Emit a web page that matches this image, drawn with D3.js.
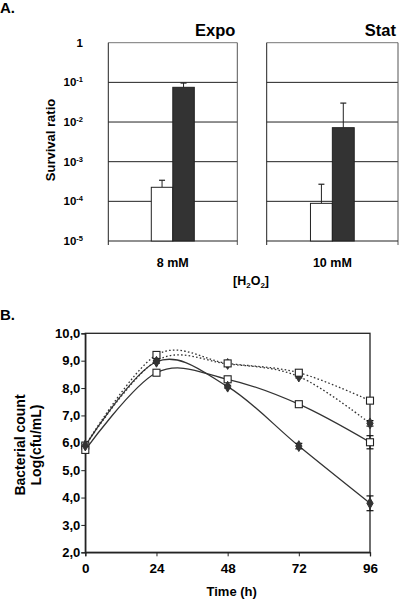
<!DOCTYPE html>
<html><head><meta charset="utf-8">
<script src="https://cdn.jsdelivr.net/npm/d3@7/dist/d3.min.js"></script>
<style>
html,body{margin:0;padding:0;background:#fff;}
svg{display:block;font-family:"Liberation Sans",Arial,sans-serif;font-weight:bold;}
</style></head>
<body>
<svg id="c" width="400" height="599"></svg>
<script>
// ---------- Panel A data ----------
const panelNames = ["Expo", "Stat"];
const concLabels = ["8 mM", "10 mM"];
const barKeys = ["white", "dark"];
const whiteVals = [2.26e-4, 8.9e-5];
const whiteTop = [3.4e-4, 2.7e-4];
const darkVals = [7.5e-2, 7.2e-3];
const darkTop = [9.6e-2, 3.0e-2];
const yExps = [0, -1, -2, -3, -4, -5];

// ---------- Panel B data ----------
const hours = [0, 24, 48, 72, 96];
const xTicksB = [0, 24, 48, 72, 96];
const yTicksB = [2, 3, 4, 5, 6, 7, 8, 9, 10];
const solidDiamond = [5.9, 8.96, 8.05, 5.88, 3.79];
const solidDiamondErr = [0, 0.05, 0.05, 0.1, 0.27];
const solidSquare = [5.74, 8.56, 8.32, 7.41, 6.02];
const solidSquareErr = [0, 0, 0, 0.05, 0.24];
const dottedSquare = [5.9, 9.21, 8.9, 8.56, 7.54];
const dottedSquareErr = [0, 0, 0, 0, 0];
const dottedDiamond = [5.9, 9.0, 8.88, 8.42, 6.71];
const dottedDiamondErr = [0, 0, 0, 0.05, 0.1];

const svg = d3.select("#c");
const ink = "#222";

// ================= PANEL A =================
svg.append("text").attr("x", 0).attr("y", 13).attr("font-size", 15).text("A.");

const yA = d3.scaleLog().domain([1e-5, 1]).range([241, 42.7]);
const boxes = [[108.3, 237.3], [266.7, 398]];

boxes.forEach((bx, i) => {
  const g = svg.append("g");
  const [x0, x1] = bx;
  // gridlines
  yExps.forEach(e => {
    if (e === -5) return;
    g.append("line").attr("x1", x0).attr("x2", x1)
      .attr("y1", yA(Math.pow(10, e))).attr("y2", yA(Math.pow(10, e)))
      .attr("stroke", e === 0 ? "#777" : ink).attr("stroke-width", 1);
  });
  // left & right borders
  g.append("line").attr("x1", x0).attr("x2", x0).attr("y1", yA(1)).attr("y2", yA(1e-5) + 4)
    .attr("stroke", ink);
  g.append("line").attr("x1", x1).attr("x2", x1).attr("y1", yA(1)).attr("y2", yA(1e-5) + 4)
    .attr("stroke", "#555");
  // bottom axis
  g.append("line").attr("x1", x0).attr("x2", x1).attr("y1", yA(1e-5)).attr("y2", yA(1e-5))
    .attr("stroke", ink).attr("stroke-width", 1.2);

  const w = x1 - x0;
  const xb = d3.scaleBand().domain(barKeys).range([x0 + w / 3, x0 + 2 * w / 3]).padding(0);
  const vals = { white: whiteVals[i], dark: darkVals[i] };
  const tops = { white: whiteTop[i], dark: darkTop[i] };
  barKeys.forEach(k => {
    const cx = xb(k) + xb.bandwidth() / 2;
    // error bar
    g.append("line").attr("x1", cx).attr("x2", cx).attr("y1", yA(vals[k])).attr("y2", yA(tops[k]))
      .attr("stroke", ink).attr("stroke-width", 1);
    g.append("line").attr("x1", cx - 3).attr("x2", cx + 3).attr("y1", yA(tops[k])).attr("y2", yA(tops[k]))
      .attr("stroke", ink).attr("stroke-width", 1.2);
    g.append("rect").attr("x", xb(k)).attr("width", xb.bandwidth())
      .attr("y", yA(vals[k])).attr("height", yA(1e-5) - yA(vals[k]))
      .attr("fill", k === "white" ? "#fff" : "#333").attr("stroke", ink).attr("stroke-width", 1);
  });

  svg.append("text").attr("x", x1 - 2).attr("y", 36).attr("text-anchor", "end")
    .attr("font-size", 16.5).text(panelNames[i]);
  svg.append("text").attr("x", (x0 + x1) / 2).attr("y", 267).attr("text-anchor", "middle")
    .attr("font-size", 12.5).text(concLabels[i]);
});

// y tick labels panel A
yExps.forEach(e => {
  const t = svg.append("text").attr("x", 83).attr("y", yA(Math.pow(10, e)) + 4)
    .attr("text-anchor", "end").attr("font-size", 11.5);
  if (e === 0) t.text("1");
  else {
    t.append("tspan").text("10");
    t.append("tspan").attr("font-size", 7.5).attr("dy", -4).text(String(e).replace("-", "-"));
  }
});
svg.append("text").attr("transform", "translate(55,140) rotate(-90)")
  .attr("text-anchor", "middle").attr("font-size", 13).text("Survival ratio");

// [H2O2]
const h2 = svg.append("text").attr("x", 233).attr("y", 285).attr("font-size", 12.5);
h2.append("tspan").text("[H");
h2.append("tspan").attr("font-size", 8).attr("dy", 3).text("2");
h2.append("tspan").attr("dy", -3).text("O");
h2.append("tspan").attr("font-size", 8).attr("dy", 3).text("2");
h2.append("tspan").attr("dy", -3).text("]");

// ================= PANEL B =================
svg.append("text").attr("x", 0).attr("y", 320).attr("font-size", 15).text("B.");

const xB = d3.scaleLinear().domain([0, 96]).range([85.3, 370]);
const yB = d3.scaleLinear().domain([2, 10]).range([552.3, 333.3]);

const gB = svg.append("g");
// frame
gB.append("rect").attr("x", xB(0)).attr("y", yB(10)).attr("width", xB(96) - xB(0))
  .attr("height", yB(2) - yB(10)).attr("fill", "none").attr("stroke", ink).attr("stroke-width", 1.3);

const xAxis = d3.axisBottom(xB).tickValues(xTicksB).tickSize(4).tickFormat(d3.format("d"));
const gx = gB.append("g").attr("transform", `translate(0,${yB(2)})`).call(xAxis);
gx.select(".domain").attr("stroke", ink).attr("stroke-width", 1.3);
gx.selectAll(".tick line").attr("stroke", ink);
gx.selectAll(".tick text").attr("font-size", 13.5).attr("font-weight", "bold")
  .attr("font-family", "Liberation Sans, Arial, sans-serif").attr("fill", "#000").attr("dy", "1.05em");

const yAxis = d3.axisLeft(yB).tickValues(yTicksB).tickSize(4)
  .tickFormat(d => d3.format(".1f")(d).replace(".", ","));
const gy = gB.append("g").attr("transform", `translate(${xB(0)},0)`).call(yAxis);
gy.select(".domain").attr("stroke", ink).attr("stroke-width", 1.3);
gy.selectAll(".tick line").attr("stroke", ink);
gy.selectAll(".tick text").attr("font-size", 13).attr("font-weight", "bold")
  .attr("font-family", "Liberation Sans, Arial, sans-serif").attr("fill", "#000").attr("x", -5);

svg.append("text").attr("x", 231.7).attr("y", 596).attr("text-anchor", "middle")
  .attr("font-size", 13).text("Time (h)");
svg.append("text").attr("transform", "translate(25,445) rotate(-90)")
  .attr("text-anchor", "middle").attr("font-size", 14).text("Bacterial count");
svg.append("text").attr("transform", "translate(41,445) rotate(-90)")
  .attr("text-anchor", "middle").attr("font-size", 14).text("Log(cfu/mL)");

const series = [
  { vals: dottedDiamond, err: dottedDiamondErr, dash: "1.6,2.2", marker: "diamond" },
  { vals: dottedSquare, err: dottedSquareErr, dash: "1.6,2.2", marker: "square" },
  { vals: solidSquare, err: solidSquareErr, dash: null, marker: "square" },
  { vals: solidDiamond, err: solidDiamondErr, dash: null, marker: "diamond" }
];

const line = d3.line().x((d, i) => xB(hours[i])).y(d => yB(d)).curve(d3.curveCardinal.tension(0));

series.forEach(s => {
  gB.append("path").datum(s.vals).attr("d", line).attr("fill", "none")
    .attr("stroke", "#333").attr("stroke-width", 1.3)
    .attr("stroke-dasharray", s.dash);
});
// error bars
series.forEach(s => {
  s.vals.forEach((v, i) => {
    const e = s.err[i];
    if (!e) return;
    const cx = xB(hours[i]);
    gB.append("line").attr("x1", cx).attr("x2", cx).attr("y1", yB(v - e)).attr("y2", yB(v + e))
      .attr("stroke", "#111").attr("stroke-width", 1);
    [v - e, v + e].forEach(y => {
      gB.append("line").attr("x1", cx - 3.5).attr("x2", cx + 3.5).attr("y1", yB(y)).attr("y2", yB(y))
        .attr("stroke", "#111").attr("stroke-width", 1.2);
    });
  });
});
// markers
series.forEach(s => {
  s.vals.forEach((v, i) => {
    const cx = xB(hours[i]), cy = yB(v);
    if (s.marker === "square") {
      gB.append("rect").attr("x", cx - 3.5).attr("y", cy - 3.5).attr("width", 7).attr("height", 7)
        .attr("fill", "#fff").attr("stroke", "#222").attr("stroke-width", 1.1);
    } else {
      gB.append("path").attr("d", d3.symbol(d3.symbolDiamond, 34)())
        .attr("transform", `translate(${cx},${cy})`).attr("fill", "#333").attr("stroke", "#333");
    }
  });
});
</script>
</body></html>
